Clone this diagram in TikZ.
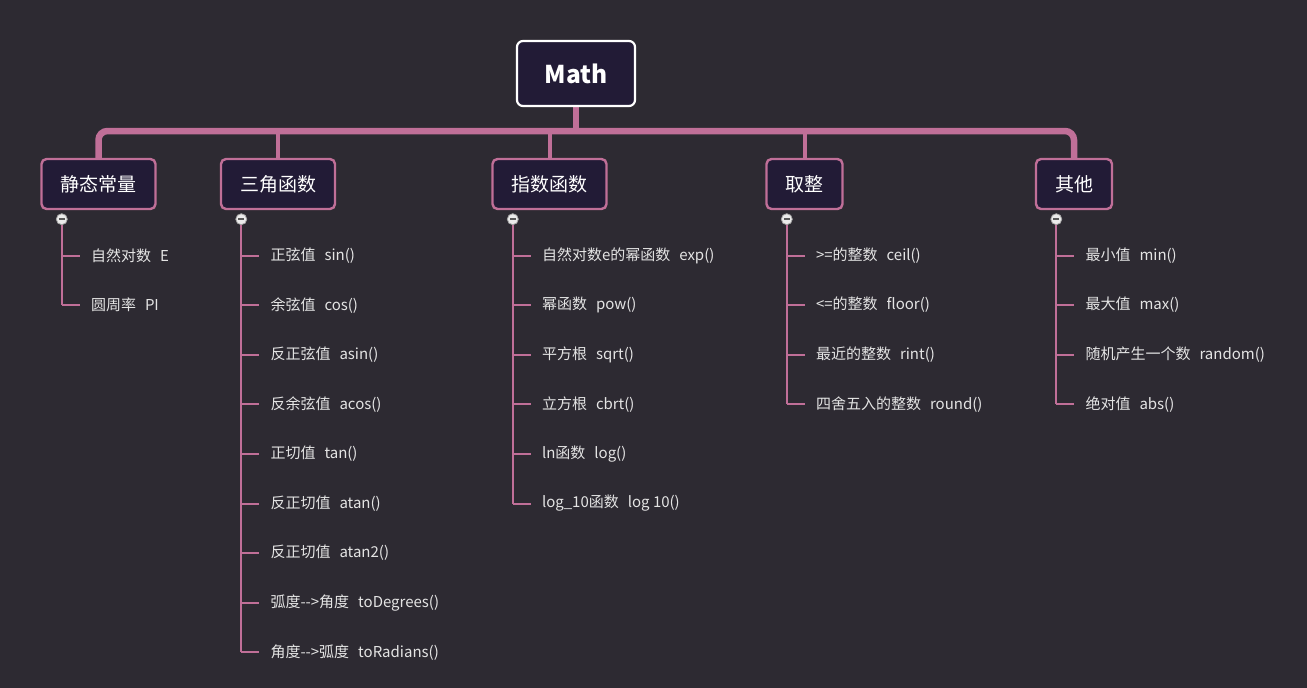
\documentclass[tikz,border=0pt]{standalone}
\usepackage{fontspec}
\setmainfont{Noto Sans CJK SC}
\usetikzlibrary{calc,backgrounds}
\definecolor{bg}{HTML}{2D2A32}
\definecolor{nfill}{HTML}{221B36}
\definecolor{pk}{HTML}{C06F98}
\definecolor{itx}{HTML}{E4E4E4}
\newcommand\gp{\hspace{0.6em}}
\tikzset{
 cat/.style={rectangle, rounded corners=5pt, draw=pk, line width=2.4pt, fill=nfill, text=white, font=\fontsize{19}{22}\selectfont, inner xsep=19pt, minimum height=50pt},
 root/.style={rectangle, rounded corners=6pt, draw=white, line width=2.2pt, fill=nfill, text=white, font=\fontsize{24.5}{30}\selectfont\bfseries, minimum width=118pt, minimum height=65pt},
 item/.style={anchor=west, inner xsep=11pt, inner ysep=0pt, text=itx, font=\fontsize{15}{17}\selectfont},
 twig/.style={draw=pk, line width=2pt},
 tog/.style={circle, draw=gray!70, fill=white!92!black, line width=0.8pt, minimum size=11pt, inner sep=0pt,
   path picture={\draw[line width=1.6pt, black!65] ([xshift=-3pt]path picture bounding box.center) -- ([xshift=3pt]path picture bounding box.center);}},
 trunk/.style={draw=pk, line width=6.5pt},
 branch/.style={draw=pk, line width=4pt}
}
\newcommand\grp[4]{%
 \node[tog] (#2t) at ($(#1.south west)+(21.5,9)$) {};
 \foreach \s [count=\i] in {#3} {
   \node[item, xshift=18pt] (#2\i) at (#2t.center |- 0,{255.5+(\i-1)*49.6}) {\s};
   \draw[twig] (#2t.center |- #2\i.west) -- (#2\i.west);
 }
 \draw[twig] (#2t.south) -- (#2t.center |- #2#4.west);
}
\begin{document}
\begin{tikzpicture}[x=1pt,y=-1pt]
\path[use as bounding box] (0,0) rectangle (1307,688);
\node[root] (m) at (576,73.5) {Math};
\node[cat] (k1) at (98.5,184) {静态常量};
\node[cat] (k2) at (278,184) {三角函数};
\node[cat] (k3) at (549.5,184) {指数函数};
\node[cat] (k4) at (804.5,184) {取整};
\node[cat] (k5) at (1074,184) {其他};
\coordinate (j) at (576,131);
\begin{scope}[on background layer]
\fill[bg] (0,0) rectangle (1307,688);
\draw[trunk] (m.south) -- (j);
\draw[trunk, rounded corners=9pt] (k1.north) -- (k1.north |- j) -- (k5.north |- j) -- (k5.north);
\draw[branch] (k2.north |- j) -- (k2.north);
\draw[branch] (k3.north |- j) -- (k3.north);
\draw[branch] (k4.north |- j) -- (k4.north);
\end{scope}
\grp{k1}{pa}{{自然对数\gp E},{圆周率\gp PI}}{2}
\grp{k2}{pb}{{正弦值\gp sin()},{余弦值\gp cos()},{反正弦值\gp asin()},{反余弦值\gp acos()},{正切值\gp tan()},{反正切值\gp atan()},{反正切值\gp atan2()},{弧度-{}-{}>角度\gp toDegrees()},{角度-{}-{}>弧度\gp toRadians()}}{9}
\grp{k3}{pc}{{自然对数e的幂函数\gp exp()},{幂函数\gp pow()},{平方根\gp sqrt()},{立方根\gp cbrt()},{ln函数\gp log()},{log\_10函数\gp log 10()}}{6}
\grp{k4}{pd}{{>=的整数\gp ceil()},{<=的整数\gp floor()},{最近的整数\gp rint()},{四舍五入的整数\gp round()}}{4}
\grp{k5}{pe}{{最小值\gp min()},{最大值\gp max()},{随机产生一个数\gp random()},{绝对值\gp abs()}}{4}
\end{tikzpicture}
\end{document}
